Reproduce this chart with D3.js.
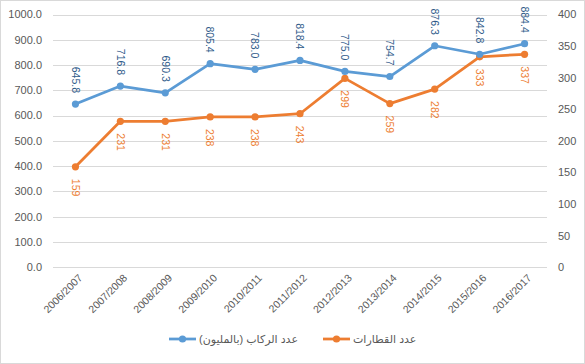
<!DOCTYPE html>
<html>
<head>
<meta charset="utf-8">
<script src="https://cdn.jsdelivr.net/npm/d3@7"></script>
<style>
  body { margin: 0; background: #fff; }
  svg { font-family: "Liberation Sans", "DejaVu Sans", sans-serif; }
</style>
</head>
<body>
<script>
//chart data
var years = ["2006/2007", "2007/2008", "2008/2009", "2009/2010", "2010/2011", "2011/2012",
             "2012/2013", "2013/2014", "2014/2015", "2015/2016", "2016/2017"];
var passengers = [645.8, 716.8, 690.3, 805.4, 783.0, 818.4, 775.0, 754.7, 876.3, 842.8, 884.4]; //millions
var trains = [159, 231, 231, 238, 238, 243, 299, 259, 282, 333, 337];
var leftTicks = [0, 100, 200, 300, 400, 500, 600, 700, 800, 900, 1000];
var rightTicks = [0, 50, 100, 150, 200, 250, 300, 350, 400];
var passengerName = "عدد الركاب (بالمليون)";
var trainName = "عدد القطارات";

var width = 585, height = 364;
var blue = "#5B9BD5", orange = "#ED7D31";

var svg = d3.select("body").append("svg")
    .attr("width", width)
    .attr("height", height);

//chart border
svg.append("rect")
    .attr("x", 0.5).attr("y", 0.5)
    .attr("width", width - 1).attr("height", height - 1)
    .attr("fill", "#fff")
    .attr("stroke", "#D9D9D9");

//scales
var x = d3.scaleBand().domain(years).range([53, 547]);
var yLeft = d3.scaleLinear().domain([0, 1000]).range([267.3, 14.5]);
var yRight = d3.scaleLinear().domain([0, 400]).range([267.3, 14.5]);
function cx(i){ return x(years[i]) + x.bandwidth() / 2; }

//gridlines
svg.selectAll(".grid")
    .data(leftTicks)
    .enter().append("line")
    .attr("class", "grid")
    .attr("x1", 53).attr("x2", 547)
    .attr("y1", function(d){ return Math.round(yLeft(d)) + 0.5; })
    .attr("y2", function(d){ return Math.round(yLeft(d)) + 0.5; })
    .attr("stroke", "#D9D9D9");

//left axis labels
svg.selectAll(".lt")
    .data(leftTicks)
    .enter().append("text")
    .attr("x", 42)
    .attr("y", function(d){ return yLeft(d); })
    .attr("dy", "0.35em")
    .attr("text-anchor", "end")
    .attr("font-size", 11)
    .attr("fill", "#595959")
    .text(function(d){ return d.toFixed(1); });

//right axis labels
svg.selectAll(".rt")
    .data(rightTicks)
    .enter().append("text")
    .attr("x", 558)
    .attr("y", function(d){ return yRight(d); })
    .attr("dy", "0.35em")
    .attr("font-size", 11)
    .attr("fill", "#595959")
    .text(function(d){ return d; });

//category labels
svg.selectAll(".xt")
    .data(years)
    .enter().append("text")
    .attr("transform", function(d, i){ return "translate(" + (cx(i) + 5) + ",276) rotate(-45)"; })
    .attr("text-anchor", "end")
    .attr("dy", "0.35em")
    .attr("font-size", 10.5)
    .attr("fill", "#595959")
    .text(function(d){ return d; });

//draw one series with markers
function drawSeries(values, yScale, color){
    var line = d3.line()
        .x(function(d, i){ return cx(i); })
        .y(function(d){ return yScale(d); });
    svg.append("path")
        .datum(values)
        .attr("d", line)
        .attr("fill", "none")
        .attr("stroke", color)
        .attr("stroke-width", 2.75)
        .attr("stroke-linejoin", "round");
    svg.selectAll(null)
        .data(values)
        .enter().append("circle")
        .attr("cx", function(d, i){ return cx(i); })
        .attr("cy", function(d){ return yScale(d); })
        .attr("r", 3.6)
        .attr("fill", color);
}
drawSeries(trains, yRight, orange);
drawSeries(passengers, yLeft, blue);

//passenger labels, rotated, above points
svg.selectAll(".pl")
    .data(passengers)
    .enter().append("text")
    .attr("transform", function(d, i){ return "translate(" + cx(i) + "," + (yLeft(d) - 11) + ") rotate(90)"; })
    .attr("text-anchor", "end")
    .attr("dy", "0.35em")
    .attr("font-size", 10.5)
    .attr("fill", "#2F5B8A")
    .text(function(d){ return d.toFixed(1); });

//train labels, rotated, below points
svg.selectAll(".tl")
    .data(trains)
    .enter().append("text")
    .attr("transform", function(d, i){ return "translate(" + cx(i) + "," + (yRight(d) + 12) + ") rotate(90)"; })
    .attr("text-anchor", "start")
    .attr("dy", "0.35em")
    .attr("font-size", 10.5)
    .attr("fill", orange)
    .text(function(d){ return d; });

//legend
var legend = [
    {name: passengerName, color: blue, x: 169},
    {name: trainName, color: orange, x: 323}
];
var lg = svg.selectAll(".lg")
    .data(legend)
    .enter().append("g")
    .attr("transform", function(d){ return "translate(" + d.x + ",339)"; });
lg.append("line")
    .attr("x1", 0).attr("x2", 27)
    .attr("stroke", function(d){ return d.color; })
    .attr("stroke-width", 2.75);
lg.append("circle")
    .attr("cx", 13.5)
    .attr("r", 3.6)
    .attr("fill", function(d){ return d.color; });
lg.append("text")
    .attr("x", 30)
    .attr("dy", "0.35em")
    .attr("font-size", 11)
    .attr("fill", "#595959")
    .text(function(d){ return d.name; });
</script>
</body>
</html>
